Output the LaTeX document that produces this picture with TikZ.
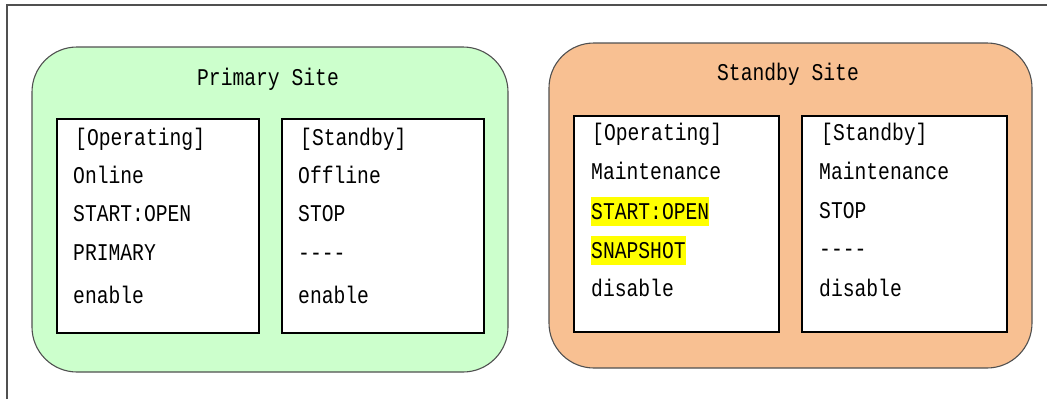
\documentclass[tikz,border=0pt]{standalone}
\usepackage{fontspec}
\newfontfamily\gothic[FakeStretch=0.82]{Liberation Mono}
\definecolor{sitegreen}{HTML}{CCFFCC}
\definecolor{siteorange}{HTML}{F8C092}
\definecolor{siteedge}{HTML}{505050}
\definecolor{frameedge}{HTML}{505050}
\definecolor{hl}{HTML}{FFFF00}
\begin{document}
\begin{tikzpicture}[x=1pt,y=-1pt,
  every node/.style={font=\gothic\fontsize{24}{24}\selectfont},
  site/.style={draw=siteedge,line width=1.1pt,rounded corners=45pt,inner sep=0pt},
  panel/.style={draw=black,line width=1.3pt,fill=white,inner sep=0pt},
  txt/.style={anchor=west,inner sep=0pt,text height=16pt,text depth=0pt},
  hltxt/.style={txt,fill=hl,inner xsep=0pt,inner ysep=6.5pt},
  title/.style={inner sep=0pt,text height=16pt,text depth=0pt}]
\useasboundingbox (0,0) rectangle (1047,399);
\fill[white] (0,0) rectangle (1047,399);
% outer frame
\coordinate (fbl) at (7,399);
\coordinate (ftl) at (7,5);
\coordinate (ftr) at (1047,5);
\draw[frameedge,line width=1.4pt] (fbl) -- (ftl) -- (ftr);
% sites
\node[site,fill=sitegreen,minimum width=476pt,minimum height=325pt] (ps) at (270,209.5) {};
\node[site,fill=siteorange,minimum width=483pt,minimum height=325pt] (ss) at (790.5,205.5) {};
\node[title] (pst) at (268,77) {Primary Site};
\node[title] (sst) at (788,72) {Standby Site};
% panels
\node[panel,minimum width=202pt,minimum height=214pt] (po) at (158,226) {};
\node[panel,minimum width=202pt,minimum height=214pt] (pb) at (383,226) {};
\node[panel,minimum width=205pt,minimum height=216pt] (so) at (676.5,224) {};
\node[panel,minimum width=205pt,minimum height=216pt] (sb) at (904.5,224) {};
% primary operating
\node[txt] (po1) at (75,137) {[Operating]};
\node[txt] (po2) at (73,175) {Online};
\node[txt] (po3) at (73,213) {START:OPEN};
\node[txt] (po4) at (73,252) {PRIMARY};
\node[txt] (po5) at (73,295) {enable};
% primary standby
\node[txt] (pb1) at (300,137) {[Standby]};
\node[txt] (pb2) at (298,175) {Offline};
\node[txt] (pb3) at (298,213) {STOP};
\node[txt] (pb4) at (298,252) {----};
\node[txt] (pb5) at (298,295) {enable};
% standby operating
\node[txt] (so1) at (592,132) {[Operating]};
\node[txt] (so2) at (591,171) {Maintenance};
\node[hltxt] (so3) at (591,211) {START:OPEN};
\node[hltxt] (so4) at (591,250) {SNAPSHOT};
\node[txt] (so5) at (591,288) {disable};
% standby standby
\node[txt] (sb1) at (821,132) {[Standby]};
\node[txt] (sb2) at (819,171) {Maintenance};
\node[txt] (sb3) at (819,210) {STOP};
\node[txt] (sb4) at (819,248) {----};
\node[txt] (sb5) at (819,288) {disable};
\end{tikzpicture}
\end{document}
